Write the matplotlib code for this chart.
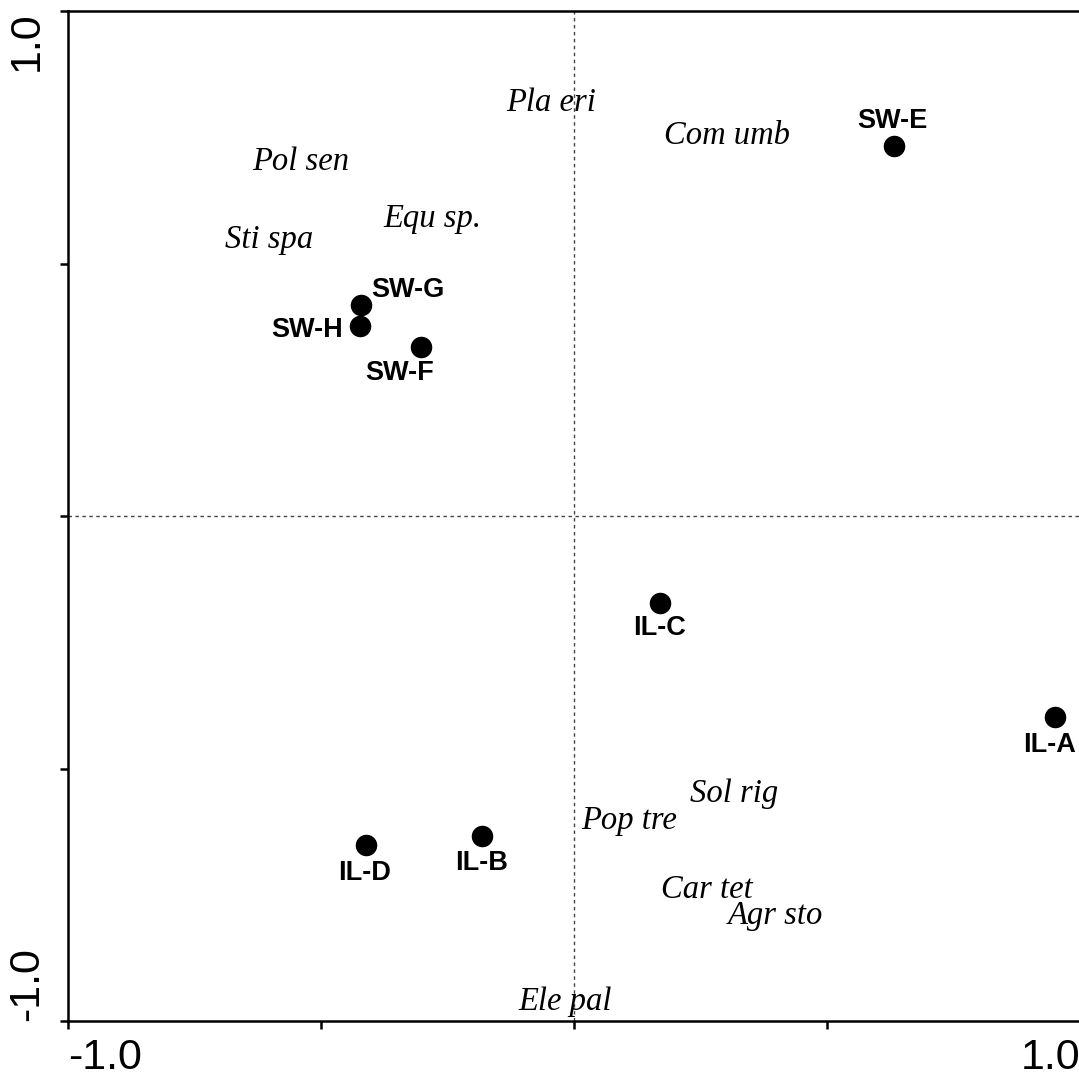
#!/usr/bin/env python3
"""Ordination biplot: sample sites (dots) and species (italic labels)."""

import matplotlib

matplotlib.use("Agg")
import matplotlib.pyplot as plt

SITES = ["SW-E", "SW-G", "SW-H", "SW-F", "IL-C", "IL-A", "IL-B", "IL-D"]
SITE_X = [0.632, -0.421, -0.423, -0.302, 0.170, 0.951, -0.182, -0.411]
SITE_Y = [0.733, 0.418, 0.376, 0.335, -0.172, -0.398, -0.634, -0.651]

SPECIES = ["Pla eri", "Com umb", "Pol sen", "Equ sp.", "Sti spa",
           "Sol rig", "Pop tre", "Car tet", "Agr sto", "Ele pal"]
SPECIES_X = [-0.045, 0.302, -0.540, -0.280, -0.603,
             0.316, 0.109, 0.262, 0.399, -0.017]
SPECIES_Y = [0.802, 0.737, 0.685, 0.572, 0.531,
             -0.566, -0.620, -0.756, -0.808, -0.978]

# label placement (pixels from the dot): dx, dy, horizontal alignment
SITE_LABEL_POS = {
    "SW-E": (-1, 18, "center"),
    "SW-G": (10, 8, "left"),
    "SW-H": (-17, -11, "right"),
    "SW-F": (-22, -33, "center"),
    "IL-C": (-1, -32, "center"),
    "IL-A": (-6, -35, "center"),
    "IL-B": (0, -34, "center"),
    "IL-D": (-1, -35, "center"),
}


def main() -> None:
    fig = plt.figure(figsize=(10.79, 10.76), dpi=100)
    ax = fig.add_axes([68 / 1079, 55 / 1076, 1012 / 1079, 1010 / 1076])
    ax.set_xlim(-1, 1)
    ax.set_ylim(-1, 1)

    ax.axhline(0, color="#444444", lw=1.0, ls=(0, (2.5, 2.5)), zorder=1)
    ax.axvline(0, color="#444444", lw=1.0, ls=(0, (2.5, 2.5)), zorder=1)

    ax.scatter(SITE_X, SITE_Y, s=210, color="black", zorder=3)
    for name, x, y in zip(SITES, SITE_X, SITE_Y):
        dx, dy, ha = SITE_LABEL_POS[name]
        ax.annotate(name, (x, y), xytext=(dx, dy), textcoords="offset pixels",
                    ha=ha, va="baseline", fontsize=19.5, fontweight="bold",
                    family="Liberation Sans")

    for name, x, y in zip(SPECIES, SPECIES_X, SPECIES_Y):
        ax.text(x, y, name, ha="center", va="baseline", fontsize=23.5,
                style="italic", family="Liberation Serif", zorder=2)

    for side in ("left", "bottom", "top"):
        ax.spines[side].set_linewidth(1.8)
    ax.spines["right"].set_visible(False)

    ax.set_xticks([-1, -0.5, 0, 0.5, 1])
    ax.set_xticklabels(["-1.0", "", "", "", "1.0"])
    ax.set_yticks([-1, -0.5, 0, 0.5, 1])
    ax.set_yticklabels(["-1.0", "", "", "", "1.0"], rotation=90)
    ax.tick_params(axis="both", direction="out", length=6, width=1.8,
                   labelsize=31, pad=6)
    ax.tick_params(axis="y", pad=9)
    for lab in ax.get_xticklabels():
        lab.set_family("Liberation Sans")
    for lab in ax.get_yticklabels():
        lab.set_family("Liberation Sans")
    xl = ax.get_xticklabels()
    xl[0].set_ha("left")
    xl[-1].set_ha("right")
    yl = ax.get_yticklabels()
    yl[0].set_va("bottom")
    yl[-1].set_va("top")

    fig.savefig("out.png", dpi=100)
    plt.close(fig)


if __name__ == "__main__":
    main()
